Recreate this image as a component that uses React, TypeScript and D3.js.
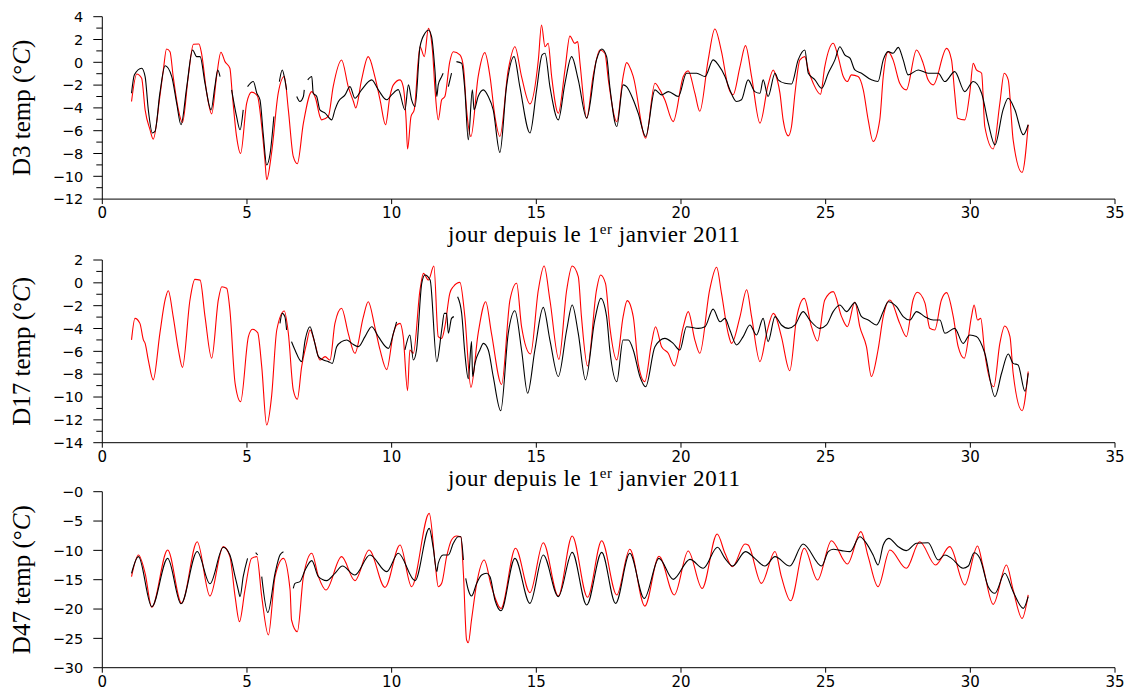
import React from 'react';
import * as d3 from 'd3';

type Pt = [number, number | null];

// ---------- tick values / labels ----------
const xTickValues = [0, 5, 10, 15, 20, 25, 30, 35];
const d3TickValues = [4, 2, 0, -2, -4, -6, -8, -10, -12];
const d3TickLabels = ['4', '2', '0', '−2', '−4', '−6', '−8', '−10', '−12'];
const d3MinorTicks = [3, 1, -1, -3, -5, -7, -9, -11];
const d17TickValues = [2, 0, -2, -4, -6, -8, -10, -12, -14];
const d17TickLabels = ['2', '0', '−2', '−4', '−6', '−8', '−10', '−12', '−14'];
const d17MinorTicks = [1, -1, -3, -5, -7, -9, -11, -13];
const d47TickValues = [0, -5, -10, -15, -20, -25, -30];
const d47TickLabels = ['−0', '−5', '−10', '−15', '−20', '−25', '−30'];
const d47MinorTicks: number[] = [];

// ---------- D3 sensor (black = observed, red = model) ----------
const obsD3: Pt[] = [
  [1.01, -2.71], [1.11, -1.1], [1.36, -0.52], [1.48, -1.25], [1.59, -4.17], [1.73, -6.2], [1.82, -6.06],
  [1.99, -2.71], [2.17, -0.3], [2.4, -1.25], [2.57, -3.59], [2.72, -5.48], [2.92, -2.13], [3.12, 1.08],
  [3.26, 0.5], [3.38, 0.5], [3.55, -1.84], [3.76, -4.17], [3.89, -2.13], [3.99, -0.67], [4.07, -1.25],
  [4.1, null], [4.47, -2.42], [4.64, -4.75], [4.76, -5.92], [4.87, -4.17], [4.95, null], [5.02, -2.13],
  [5.22, -1.69], [5.34, -2.71], [5.45, -3.29], [5.57, -6.51], [5.68, -9.0], [5.8, -8.0], [5.93, -4.75],
  [6.0, null], [6.12, -1.69], [6.22, -0.67], [6.31, -1.54], [6.37, -2.42], [6.5, null], [6.72, -3.0],
  [6.83, -3.44], [6.95, -3.0], [6.98, -2.42], [7.04, null], [7.1, -1.54], [7.24, -1.25], [7.29, -2.71],
  [7.41, -3.0], [7.52, -4.17], [7.7, -4.46], [7.93, -5.05], [8.04, -4.17], [8.16, -3.44], [8.39, -2.86],
  [8.56, -2.13], [8.73, -3.15], [8.96, -2.42], [9.31, -1.54], [9.54, -2.42], [9.83, -3.29], [10.0, -2.86],
  [10.23, -2.4], [10.46, -4.17], [10.58, -1.98], [10.69, -3.29], [10.81, -3.88], [10.98, 1.36], [11.15, 2.54],
  [11.27, 2.83], [11.38, 2.25], [11.5, -0.82], [11.56, -3.0], [11.61, -1.98], [11.73, -1.25], [11.78, -0.96],
  [11.85, null], [11.96, -2.13], [12.07, -0.96], [12.15, null], [12.24, 0.06], [12.42, -0.09], [12.53, -2.42],
  [12.65, -6.8], [12.79, -2.42], [12.85, -4.17], [12.99, -3.0], [13.17, -2.42], [13.34, -3.0], [13.51, -4.17],
  [13.74, -7.9], [13.97, -2.13], [14.23, 0.5], [14.43, -2.13], [14.78, -6.2], [15.01, -2.42], [15.2, 0.65],
  [15.3, 0.79], [15.47, -2.13], [15.76, -5.05], [15.99, -1.84], [16.22, 0.5], [16.45, -1.54], [16.74, -4.9],
  [17.08, 0.21], [17.26, 1.17], [17.43, 0.5], [17.54, -2.13], [17.78, -5.63], [18.0, -1.98], [18.12, -2.13],
  [18.35, -3.29], [18.52, -4.46], [18.78, -6.51], [19.1, -2.42], [19.33, -2.86], [19.56, -2.57], [19.91, -3.0],
  [20.19, -0.96], [20.36, -0.96], [20.54, -0.96], [20.83, -1.25], [21.11, 0.21], [21.29, -0.23], [21.52, -1.25],
  [21.69, -2.42], [21.92, -3.44], [22.09, -3.29], [22.32, -1.54], [22.55, -2.57], [22.73, -2.71], [22.84, -1.54],
  [23.01, -3.0], [23.25, -0.96], [23.36, -1.54], [23.59, -1.84], [23.82, -1.9], [24.05, 0.21], [24.28, 1.08],
  [24.4, -0.96], [24.63, -1.54], [24.86, -2.28], [25.09, -0.96], [25.32, 0.21], [25.49, 1.37], [25.66, 0.65],
  [25.84, 0.36], [26.01, -0.67], [26.24, -0.96], [26.58, -1.54], [26.81, -1.69], [26.99, 0.21], [27.16, 0.94],
  [27.33, 0.79], [27.51, 1.31], [27.68, 0.21], [27.85, -1.1], [28.2, -0.67], [28.54, -0.96], [28.89, -0.96],
  [29.12, -1.69], [29.46, -0.82], [29.81, -2.57], [30.1, -1.69], [30.39, -2.71], [30.62, -5.34], [30.85, -7.24],
  [31.13, -4.17], [31.31, -3.15], [31.54, -4.17], [31.83, -6.36], [32.0, -5.48],
];

const modD3: Pt[] = [
  [1.01, -3.44], [1.19, -1.02], [1.36, -1.4], [1.48, -4.17], [1.65, -5.92], [1.76, -6.74], [1.99, -3.0],
  [2.11, -0.67], [2.22, 1.17], [2.34, 0.93], [2.45, -1.25], [2.63, -4.17], [2.77, -5.28], [2.97, -1.25],
  [3.15, 1.58], [3.34, 1.61], [3.43, 0.79], [3.61, -2.71], [3.78, -4.52], [3.95, -1.25], [4.1, 0.88],
  [4.24, 0.06], [4.41, -0.52], [4.49, -2.71], [4.64, -6.5], [4.78, -8.0], [4.99, -3.59], [5.16, -2.62],
  [5.36, -2.94], [5.51, -5.63], [5.62, -8.55], [5.68, -10.3], [5.85, -7.96], [6.08, -2.71], [6.29, -1.25],
  [6.43, -4.17], [6.6, -8.26], [6.74, -8.9], [6.95, -5.34], [7.24, -2.57], [7.37, -3.15], [7.52, -4.75],
  [7.58, -5.05], [7.81, -4.75], [7.98, -2.13], [8.27, 0.2], [8.5, -2.13], [8.68, -3.44], [8.76, -4.0],
  [8.96, -1.54], [9.19, 0.5], [9.42, -1.25], [9.6, -3.29], [9.79, -5.48], [9.94, -3.0], [10.06, -1.98],
  [10.29, -1.54], [10.4, -2.13], [10.5, -5.05], [10.55, -7.6], [10.67, -4.75], [10.78, -4.17], [10.98, 1.36],
  [11.13, 0.5], [11.27, 2.98], [11.41, 1.08], [11.5, -2.42], [11.61, -5.05], [11.73, -3.29], [11.84, -3.0],
  [12.01, 0.06], [12.13, 0.93], [12.36, 0.65], [12.48, -0.38], [12.59, -4.17], [12.74, -6.5], [12.99, -1.25],
  [13.22, 0.85], [13.4, -1.25], [13.57, -4.75], [13.74, -6.5], [14.03, -0.67], [14.26, 1.37], [14.49, -1.25],
  [14.78, -3.65], [15.07, 0.21], [15.18, 3.27], [15.3, 1.37], [15.41, 1.66], [15.53, -1.25], [15.76, -4.47],
  [15.99, -0.67], [16.16, 2.3], [16.33, 1.67], [16.43, 1.81], [16.51, -0.08], [16.74, -4.9], [16.96, -1.25],
  [17.2, 1.08], [17.37, 0.79], [17.49, -1.54], [17.78, -5.2], [18.0, -1.25], [18.12, -0.03], [18.35, -1.25],
  [18.78, -6.65], [19.1, -1.84], [19.27, -2.42], [19.44, -3.29], [19.73, -5.2], [20.08, -1.25], [20.25, -0.75],
  [20.48, -2.71], [20.65, -4.3], [20.94, 0.21], [21.17, 2.92], [21.4, 0.94], [21.63, -2.13], [21.8, -2.85],
  [22.04, -0.38], [22.23, 1.46], [22.44, -1.25], [22.73, -5.34], [23.01, -1.98], [23.19, -0.67], [23.25, -0.96],
  [23.42, -2.71], [23.53, -5.05], [23.71, -6.45], [23.82, -5.63], [23.94, -2.71], [24.11, 0.21], [24.28, 0.5],
  [24.4, -0.67], [24.57, -1.84], [24.82, -2.8], [24.97, -0.38], [25.26, 1.67], [25.43, 0.5], [25.61, -1.25],
  [25.75, -1.69], [25.89, -1.1], [26.12, -1.25], [26.3, -2.42], [26.47, -5.05], [26.64, -6.95], [26.87, -5.05],
  [26.99, -1.25], [27.16, 0.94], [27.33, 0.21], [27.56, -1.84], [27.79, -2.42], [28.14, 1.08], [28.37, -0.09],
  [28.54, -1.54], [28.72, -1.98], [29.18, 1.22], [29.35, 0.21], [29.46, -2.71], [29.56, -4.9], [29.81, -5.05],
  [29.98, -2.71], [30.1, -0.09], [30.21, -0.67], [30.39, -0.96], [30.5, -5.63], [30.79, -7.6], [31.02, -3.59],
  [31.17, -0.96], [31.31, -1.54], [31.48, -6.8], [31.79, -9.66], [32.0, -5.48],
];

// ---------- D17 sensor ----------
const obsD17: Pt[] = [
  [6.14, -3.55], [6.22, -2.67], [6.31, -2.96], [6.37, -4.13], [6.45, null], [6.54, -5.15], [6.66, -5.88],
  [6.89, -6.9], [7.01, -5.01], [7.18, -3.84], [7.29, -4.71], [7.47, -6.46], [7.64, -6.76], [7.81, -6.9],
  [7.95, -7.05], [8.1, -5.59], [8.27, -5.15], [8.45, -5.01], [8.62, -5.3], [8.85, -5.59], [9.08, -4.71],
  [9.31, -3.84], [9.54, -4.71], [9.89, -5.74], [10.06, -4.42], [10.17, -3.41], [10.3, null], [10.46, -5.88],
  [10.63, -4.57], [10.75, -6.76], [10.86, -5.88], [11.04, -0.04], [11.15, 0.69], [11.33, 0.25], [11.56, -6.9],
  [11.73, -4.13], [11.82, -2.67], [11.9, -2.67], [11.96, -4.42], [12.07, -3.11], [12.15, -2.96], [12.2, null],
  [12.28, -1.21], [12.42, -2.67], [12.53, -6.17], [12.65, -8.4], [12.76, -5.15], [12.8, -8.2], [12.88, -7.05],
  [13.05, -5.88], [13.17, -5.3], [13.34, -5.88], [13.51, -8.2], [13.77, -11.2], [14.03, -4.42], [14.26, -2.44],
  [14.49, -5.88], [14.7, -9.67], [14.95, -5.88], [15.24, -2.15], [15.47, -5.01], [15.76, -8.2], [16.05, -4.13],
  [16.24, -1.94], [16.45, -4.42], [16.7, -8.5], [17.02, -3.26], [17.23, -1.36], [17.43, -2.96], [17.54, -5.88],
  [17.78, -8.65], [18.0, -5.01], [18.18, -5.01], [18.35, -5.88], [18.58, -8.2], [18.78, -9.1], [19.1, -5.59],
  [19.44, -4.86], [19.73, -5.3], [19.96, -5.88], [20.19, -3.84], [20.6, -3.99], [20.83, -3.84], [21.11, -2.3],
  [21.35, -3.41], [21.52, -3.11], [21.69, -4.13], [21.92, -5.44], [22.15, -4.71], [22.38, -3.69], [22.61, -4.57],
  [22.84, -3.11], [23.01, -5.15], [23.25, -2.96], [23.47, -3.69], [23.71, -3.99], [23.94, -3.69], [24.22, -2.52],
  [24.45, -3.26], [24.8, -3.99], [25.03, -3.69], [25.26, -2.52], [25.49, -1.94], [25.72, -2.52], [26.01, -1.73],
  [26.24, -2.96], [26.47, -3.26], [26.76, -3.69], [26.99, -2.52], [27.16, -1.65], [27.45, -2.09], [27.68, -2.96],
  [27.91, -3.26], [28.14, -2.52], [28.43, -2.96], [28.72, -3.26], [28.95, -3.26], [29.12, -4.42], [29.46, -3.99],
  [29.75, -5.3], [29.98, -4.57], [30.21, -4.71], [30.5, -6.17], [30.85, -9.97], [31.08, -7.92], [31.31, -6.23],
  [31.48, -7.05], [31.65, -7.19], [31.89, -9.5], [32.0, -7.92],
];

const modD17: Pt[] = [
  [1.01, -5.0], [1.13, -3.11], [1.3, -3.55], [1.42, -5.0], [1.48, -5.3], [1.59, -6.76], [1.76, -8.5],
  [1.99, -4.42], [2.17, -1.5], [2.28, -0.69], [2.45, -2.96], [2.63, -5.88], [2.77, -7.4], [3.03, -1.5],
  [3.2, 0.3], [3.38, 0.24], [3.55, -2.96], [3.78, -6.6], [4.01, -1.5], [4.13, -0.34], [4.3, -0.48],
  [4.41, -2.38], [4.59, -8.8], [4.78, -10.4], [5.05, -4.71], [5.19, -4.07], [5.37, -4.36], [5.51, -7.34],
  [5.68, -12.45], [5.85, -9.96], [6.03, -4.13], [6.29, -2.47], [6.43, -4.42], [6.6, -9.38], [6.74, -10.2],
  [6.89, -7.34], [7.06, -5.3], [7.18, -4.13], [7.35, -5.3], [7.52, -6.76], [7.7, -6.46], [7.87, -6.76],
  [8.04, -3.55], [8.27, -2.23], [8.5, -4.42], [8.73, -6.17], [9.02, -3.0], [9.19, -1.65], [9.42, -3.87],
  [9.6, -5.88], [9.83, -7.6], [10.06, -4.42], [10.17, -3.7], [10.29, -3.55], [10.4, -4.71], [10.55, -9.44],
  [10.63, -5.88], [10.75, -6.17], [10.98, -0.63], [11.1, 0.83], [11.27, 0.25], [11.46, 1.47], [11.61, -4.71],
  [11.73, -4.86], [11.84, -3.84], [12.01, -0.92], [12.13, -0.34], [12.36, 0.04], [12.53, -2.96], [12.74, -9.15],
  [12.99, -4.42], [13.25, -1.65], [13.45, -4.42], [13.8, -8.9], [14.09, -1.5], [14.32, -0.04], [14.49, -3.84],
  [14.8, -6.23], [15.07, -0.63], [15.27, 1.47], [15.47, -1.5], [15.78, -6.7], [16.05, -0.63], [16.24, 1.47],
  [16.45, 0.54], [16.56, -2.96], [16.77, -7.28], [17.08, -0.63], [17.22, 0.69], [17.39, -0.04], [17.54, -3.84],
  [17.78, -6.75], [18.0, -2.96], [18.14, -1.56], [18.35, -2.96], [18.52, -7.05], [18.75, -8.65], [18.98, -5.3],
  [19.12, -3.84], [19.33, -5.59], [19.56, -6.17], [19.77, -7.28], [20.08, -3.84], [20.25, -2.52], [20.48, -5.01],
  [20.65, -6.17], [20.99, -0.63], [21.23, 1.36], [21.4, -0.92], [21.63, -4.42], [21.75, -5.3], [22.04, -2.96],
  [22.27, -0.6], [22.44, -2.96], [22.73, -6.9], [22.96, -4.42], [23.19, -2.67], [23.25, -2.81], [23.47, -4.71],
  [23.76, -7.7], [24.0, -3.0], [24.26, -1.36], [24.51, -3.84], [24.72, -5.1], [24.97, -1.5], [25.26, -0.77],
  [25.55, -2.96], [25.75, -3.84], [26.01, -1.68], [26.18, -3.84], [26.41, -5.59], [26.58, -8.2], [26.81, -5.88],
  [26.99, -2.96], [27.22, -1.5], [27.56, -3.55], [27.79, -4.71], [28.02, -1.5], [28.17, -0.83], [28.43, -1.76],
  [28.6, -3.98], [28.77, -4.13], [29.0, -1.5], [29.18, -0.86], [29.41, -2.96], [29.58, -5.59], [29.79, -6.6],
  [30.04, -2.96], [30.13, -1.94], [30.25, -3.26], [30.36, -3.11], [30.5, -6.17], [30.81, -9.1], [31.02, -5.3],
  [31.19, -3.78], [31.37, -4.71], [31.48, -7.92], [31.79, -11.2], [32.0, -7.77],
];

// ---------- D47 sensor ----------
const obsD47: Pt[] = [
  [1.01, -13.91], [1.25, -11.07], [1.71, -19.6], [2.26, -11.36], [2.72, -19.1], [3.28, -10.2], [3.72, -15.7],
  [4.18, -9.48], [4.41, -10.79], [4.59, -14.48], [4.7, -16.76], [4.76, -17.89], [4.87, -14.48], [5.02, -11.36],
  [5.1, null], [5.3, -10.4], [5.37, -10.79], [5.42, null], [5.51, -14.48], [5.72, -20.6], [5.97, -13.91],
  [6.14, -10.79], [6.26, -10.22], [6.4, null], [6.6, -16.47], [6.66, -15.62], [6.83, -15.33], [7.01, -13.35],
  [7.24, -11.75], [7.47, -14.48], [7.75, -15.16], [8.04, -13.91], [8.3, -12.67], [8.73, -14.2], [9.25, -10.79],
  [9.83, -13.63], [10.23, -10.5], [10.81, -15.16], [11.3, -6.25], [11.44, -9.65], [11.56, -13.63], [11.61, -12.21],
  [11.78, -10.79], [11.96, -10.79], [12.13, -8.8], [12.3, -7.67], [12.39, -7.67], [12.48, -11.64], [12.52, null],
  [12.56, -14.77], [12.65, -16.76], [12.76, -17.78], [12.94, -15.62], [13.11, -14.2], [13.28, -13.91], [13.4, -14.48],
  [13.57, -18.46], [13.78, -20.28], [14.26, -11.36], [14.78, -19.03], [15.24, -10.79], [15.76, -17.89], [16.24, -10.34],
  [16.74, -19.31], [17.26, -10.34], [17.74, -19.03], [18.23, -10.5], [18.73, -18.2], [19.24, -11.36], [19.73, -14.94],
  [20.31, -11.53], [20.77, -13.06], [21.26, -9.48], [21.52, -11.36], [21.78, -12.67], [22.23, -10.22], [22.55, -11.36],
  [22.9, -12.67], [23.25, -11.07], [23.76, -12.67], [24.22, -8.91], [24.86, -12.67], [25.09, -10.22], [25.26, -9.82],
  [25.55, -10.05], [25.84, -10.22], [26.18, -7.67], [26.41, -8.8], [26.64, -10.79], [26.81, -12.5], [26.99, -9.08],
  [27.18, -7.95], [27.51, -9.37], [27.79, -10.05], [28.14, -8.8], [28.54, -8.69], [28.89, -11.64], [29.12, -10.79],
  [29.35, -11.36], [29.75, -13.06], [29.93, -12.67], [30.13, -10.4], [30.33, -11.36], [30.62, -16.19], [30.85, -17.32],
  [31.19, -13.91], [31.48, -17.04], [31.83, -19.88], [32.0, -17.89],
];

const modD47: Pt[] = [
  [1.01, -14.48], [1.25, -10.79], [1.48, -13.91], [1.71, -19.7], [2.26, -9.94], [2.74, -19.03], [3.28, -8.52],
  [3.72, -17.78], [4.18, -9.37], [4.41, -11.07], [4.59, -17.89], [4.74, -22.15], [4.93, -16.76], [5.16, -11.36],
  [5.34, -11.07], [5.51, -17.89], [5.74, -24.43], [5.97, -14.48], [6.26, -11.36], [6.49, -16.76], [6.54, -21.87],
  [6.74, -23.86], [6.95, -14.48], [7.24, -10.5], [7.47, -14.48], [7.73, -16.76], [8.27, -11.07], [8.73, -15.16],
  [9.22, -9.94], [9.77, -16.3], [10.29, -9.08], [10.69, -16.19], [11.3, -3.69], [11.5, -12.0], [11.61, -16.19],
  [11.73, -15.6], [11.9, -11.07], [12.07, -8.23], [12.24, -7.55], [12.39, -7.67], [12.48, -13.91], [12.59, -25.28],
  [12.65, -25.73], [12.76, -21.87], [12.94, -15.62], [13.2, -11.64], [13.45, -16.19], [13.78, -19.9], [14.28, -9.65],
  [14.78, -17.21], [15.24, -8.69], [15.76, -17.78], [16.24, -7.55], [16.77, -18.0], [17.26, -8.35], [17.78, -17.6],
  [18.23, -9.8], [18.75, -19.5], [19.24, -11.0], [19.77, -17.6], [20.25, -10.1], [20.73, -16.5], [21.25, -7.2],
  [21.52, -10.5], [21.78, -12.78], [22.21, -8.91], [22.32, -9.08], [22.78, -15.62], [23.25, -10.2], [23.47, -14.48],
  [23.79, -18.6], [24.26, -9.65], [24.72, -15.05], [25.2, -8.35], [25.75, -12.32], [26.22, -6.81], [26.47, -11.07],
  [26.81, -16.19], [27.22, -9.94], [27.79, -13.06], [28.25, -8.52], [28.8, -12.5], [29.29, -9.37], [29.81, -15.9],
  [30.25, -9.25], [30.44, -12.78], [30.79, -19.2], [31.25, -12.5], [31.48, -16.76], [31.79, -21.6], [32.0, -17.6],
];

const X_TITLE = 'jour depuis le 1';

interface Panel {
  name: string;
  top: number;
  bottom: number;
  domain: [number, number];
  ticks: number[];
  tickLabels: string[];
  minor: number[];
  obs: Pt[];
  mod: Pt[];
  xTitle: boolean;
}

const panels: Panel[] = [
  { name: 'D3', top: 16.7, bottom: 199.1, domain: [-12, 4], ticks: d3TickValues, tickLabels: d3TickLabels, minor: d3MinorTicks, obs: obsD3, mod: modD3, xTitle: true },
  { name: 'D17', top: 260, bottom: 442.7, domain: [-14, 2], ticks: d17TickValues, tickLabels: d17TickLabels, minor: d17MinorTicks, obs: obsD17, mod: modD17, xTitle: true },
  { name: 'D47', top: 491.7, bottom: 667.7, domain: [-30, 0], ticks: d47TickValues, tickLabels: d47TickLabels, minor: d47MinorTicks, obs: obsD47, mod: modD47, xTitle: false },
];

const W = 1135;
const H = 691;
const tickFont = '"DejaVu Sans", sans-serif';
const serif = '"Liberation Serif", "DejaVu Serif", serif';

const x = d3.scaleLinear().domain([0, 35]).range([102.3, 1115]);

function PanelView({ p }: { p: Panel }) {
  const y = d3.scaleLinear().domain(p.domain).range([p.bottom, p.top]);
  const line = d3
    .line<Pt>()
    .defined((d) => d[1] !== null)
    .x((d) => x(d[0]))
    .y((d) => y(d[1] as number))
    .curve(d3.curveMonotoneX);
  const x0 = x(0);
  const cy = (p.top + p.bottom) / 2;
  return (
    <g>
      {/* data */}
      <path d={line(p.mod) || ''} fill="none" stroke="#ff0000" strokeWidth={1.1} />
      <path d={line(p.obs) || ''} fill="none" stroke="#000000" strokeWidth={1.1} />
      {/* axes */}
      <line x1={x0} x2={x0} y1={p.top} y2={p.bottom} stroke="#000" strokeWidth={1} />
      <line x1={x0} x2={x(35)} y1={p.bottom} y2={p.bottom} stroke="#000" strokeWidth={1} />
      {p.ticks.map((t, i) => (
        <g key={'t' + t}>
          <line x1={x0 - 9} x2={x0} y1={y(t)} y2={y(t)} stroke="#000" strokeWidth={1} />
          <text x={x0 - 19} y={y(t)} dy="0.36em" textAnchor="end" fontFamily={tickFont} fontSize={14.5} fill="#000">
            {p.tickLabels[i]}
          </text>
        </g>
      ))}
      {p.minor.map((t) => (
        <line key={'m' + t} x1={x0 - 6} x2={x0} y1={y(t)} y2={y(t)} stroke="#000" strokeWidth={1} />
      ))}
      {xTickValues.map((t) => (
        <g key={'x' + t}>
          <line x1={x(t)} x2={x(t)} y1={p.bottom} y2={p.bottom + 5} stroke="#000" strokeWidth={1} />
          <text x={x(t)} y={p.bottom + 19} textAnchor="middle" fontFamily={tickFont} fontSize={15} fill="#000">
            {t}
          </text>
        </g>
      ))}
      {/* y label */}
      <text
        transform={`translate(30,${cy}) rotate(-90)`}
        textAnchor="middle"
        fontFamily={serif}
        fontSize={25}
        fill="#000"
      >
        {p.name} temp (<tspan>°</tspan><tspan fontStyle="italic">C</tspan>)
      </text>
      {p.xTitle && (
        <text
          x={594}
          y={p.bottom + 43}
          textAnchor="middle"
          fontFamily={serif}
          fontSize={23}
          textLength={292}
          lengthAdjust="spacing"
          fill="#000"
        >
          {X_TITLE}
          <tspan fontSize={15} dy={-8}>er</tspan>
          <tspan dy={8}> janvier 2011</tspan>
        </text>
      )}
    </g>
  );
}

export default function App() {
  return (
    <svg
      width={W}
      height={H}
      viewBox={`0 0 ${W} ${H}`}
      style={{ position: 'absolute', left: 0, top: 0, background: '#fff' }}
    >
      <rect x={0} y={0} width={W} height={H} fill="#fff" />
      {panels.map((p) => (
        <PanelView key={p.name} p={p} />
      ))}
    </svg>
  );
}
